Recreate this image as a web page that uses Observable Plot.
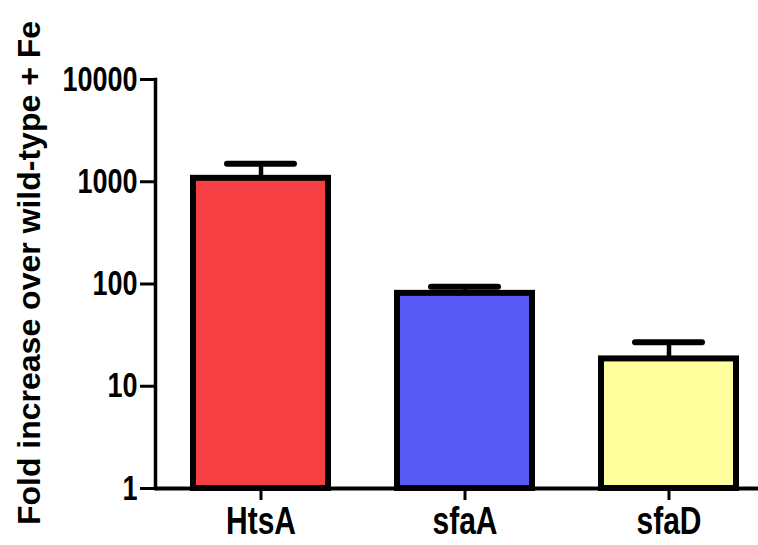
<!DOCTYPE html>
<html>
<head>
<meta charset="utf-8">
<script src="https://cdn.jsdelivr.net/npm/d3@7"></script>
<script src="https://cdn.jsdelivr.net/npm/@observablehq/plot@0.6"></script>
<style>
  html, body { margin: 0; padding: 0; background: #fff; overflow: hidden; }
  #chart { width: 758px; height: 545px; overflow: hidden; }
  #chart svg { display: block; }
</style>
</head>
<body>
<div id="chart"></div>
<script>
// Gene expression fold change (log scale) with upper error bars
const genes = ["HtsA", "sfaA", "sfaD"];
const foldMean = [1080, 81, 18.5];
const foldUpper = [1500, 94, 27];
const barColors = ["#f64044", "#5959f6", "#ffff9e"];
const yTicks = [1, 10, 100, 1000, 10000];
const yLabel = "Fold increase over wild-type + Fe";

const rows = genes.map((g, i) => ({gene: g, mean: foldMean[i], upper: foldUpper[i], color: barColors[i]}));

const font = "'Liberation Sans', Arial, Helvetica, sans-serif";

const chart = Plot.plot({
  width: 758,
  height: 545,
  marginTop: 79,
  marginBottom: 57,
  marginLeft: 155,
  marginRight: -16,
  style: {fontFamily: font, color: "#000", background: "#fff"},
  x: {domain: genes, paddingInner: 0.338, paddingOuter: 0.186},
  y: {type: "log", domain: [1, 10000]},
  marks: [
    // error stems behind the bars
    Plot.ruleX(rows, {x: "gene", y1: "mean", y2: "upper", stroke: "#000", strokeWidth: 4.5}),
    // error caps
    Plot.tickY(rows, {x: "gene", y: "upper", stroke: "#000", strokeWidth: 6, strokeLinecap: "round", inset: 34}),
    // bars
    Plot.barY(rows, {x: "gene", y1: 1, y2: "mean", fill: "color", stroke: "#000", strokeWidth: 6, strokeLinejoin: "miter"}),
    // y axis
    Plot.axisY({
      ticks: yTicks,
      tickFormat: d => String(d),
      tickSize: 15,
      tickPadding: 3,
      strokeWidth: 3,
      fontSize: 27,
      fontWeight: "bold",
      label: null
    }),
    Plot.frame({anchor: "left", stroke: "#000", strokeWidth: 3.5}),
    // x axis
    Plot.axisX({
      tickSize: 12,
      tickPadding: 6,
      strokeWidth: 3,
      fontSize: 30,
      fontWeight: "bold",
      label: null
    }),
    Plot.ruleY([1], {stroke: "#000", strokeWidth: 4}),
    // y axis title
    Plot.text([yLabel], {
      frameAnchor: "left",
      textAnchor: "middle",
      rotate: -90,
      dx: -126,
      dy: -11,
      fontSize: 32,
      fontWeight: "bold",
      fill: "#000"
    })
  ]
});

// taller glyphs for the tick labels
d3.select(chart).selectAll("g[aria-label='y-axis tick label'] text, g[aria-label='x-axis tick label'] text")
  .attr("transform", function () {
    return (this.getAttribute("transform") || "") + " scale(1,1.3)";
  });

document.getElementById("chart").appendChild(chart);
</script>
</body>
</html>
